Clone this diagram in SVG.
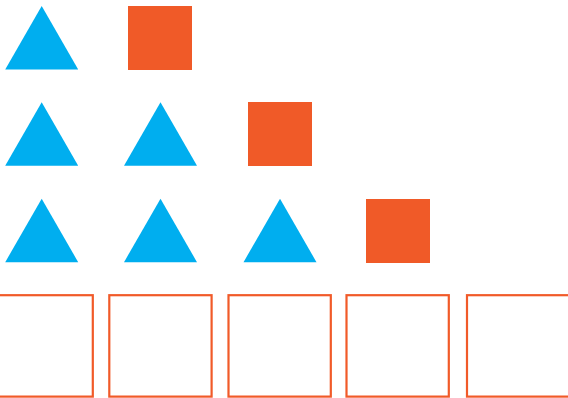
<svg xmlns="http://www.w3.org/2000/svg" width="568" height="398" viewBox="0 0 568 398">
<defs>
<style>
.tri{fill:#00AEEF}
.sq{fill:#F05A28}
.box{fill:none;stroke:#F15A29;stroke-width:2.2}
</style>
<polygon id="t" class="tri" points="0,-31.7 36.5,31.7 -36.5,31.7"/>
</defs>
<rect width="568" height="398" fill="#fff"/>
<g id="row1">
<use href="#t" x="41.7" y="37.8"/>
<rect class="sq" x="128" y="6" width="64" height="64"/>
</g>
<g id="row2">
<use href="#t" x="41.7" y="134"/>
<use href="#t" x="160.5" y="134"/>
<rect class="sq" x="248" y="102" width="64" height="64"/>
</g>
<g id="row3">
<use href="#t" x="41.7" y="230.5"/>
<use href="#t" x="160.5" y="230.5"/>
<use href="#t" x="280" y="230.5"/>
<rect class="sq" x="366" y="199" width="64" height="64"/>
</g>
<g id="boxes">
<rect class="box" x="-9.5" y="295.2" width="102.3" height="101.4"/>
<rect class="box" x="109.3" y="295.2" width="102.3" height="101.4"/>
<rect class="box" x="228.5" y="295.2" width="102.3" height="101.4"/>
<rect class="box" x="346.5" y="295.2" width="102.3" height="101.4"/>
<rect class="box" x="467" y="295.2" width="102.3" height="101.4"/>
</g>
</svg>
